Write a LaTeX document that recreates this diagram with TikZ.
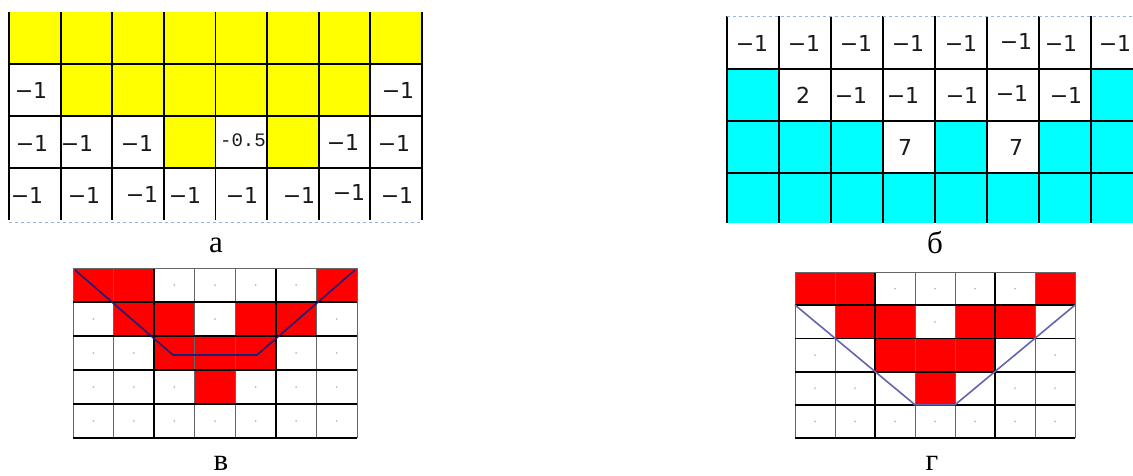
\documentclass[tikz,border=0pt]{standalone}
\usepackage{fontspec}
\setmainfont{Liberation Serif}
\newfontfamily\cellfont{DejaVu Sans}
\newfontfamily\typefont{Liberation Mono}
\definecolor{hilite}{RGB}{255,255,0}
\definecolor{aqua}{RGB}{0,255,255}
\definecolor{redcell}{RGB}{255,0,0}
\definecolor{ink}{RGB}{25,25,25}
\definecolor{seam}{RGB}{150,180,225}
\definecolor{pathdark}{RGB}{30,30,120}
\definecolor{pathsoft}{RGB}{100,100,175}
\usetikzlibrary{positioning}
\tikzset{
  gridline/.style={black,line width=1.8pt},
  thinline/.style={gray!80!black,line width=0.9pt},
  seamline/.style={seam,dashed,line width=1pt},
  num/.style={font=\cellfont\fontsize{22}{22}\selectfont,text=ink,inner sep=0pt},
  tag/.style={font=\fontsize{31}{31}\selectfont,inner sep=0pt}
}

\begin{document}
\begin{tikzpicture}[x=1pt,y=-1pt]
  \useasboundingbox (0,0) rectangle (1133,475);
  \clip (0,0) rectangle (1133,475);
  % panel a
  \fill[hilite] (9,12) rectangle (421.8,64);
  \fill[hilite] (60.6,64) rectangle (370.2,116);
  \fill[hilite] (163.8,116) rectangle (215.4,168);
  \fill[hilite] (267,116) rectangle (318.6,168);
  \foreach \i in {0,...,8}
    \draw[gridline] ({9+51.6*\i},12) -- ({9+51.6*\i},220);
  \foreach \y in {64,116,168}
    \draw[gridline] (9,\y) -- (421.8,\y);
  \draw[seamline] (9,222) -- (421.8,222);
  \foreach \x/\y [count=\i] in {31/90,398/90,32/143,77/143,137/143,343/142,394/143,
      27/195,84/195,142/194,185/195,242/195,299/195,349/192,397/195}
    \node[num] (a\i) at (\x,\y) {−1};
  \node[font=\typefont\fontsize{19}{19}\selectfont,text=ink,inner sep=0pt] (a-half) at (243,140) {-0.5};
  \node[tag] (lab-a) at (216,245) {а};
  % panel b
  \fill[aqua] (727,69) rectangle (779,121);
  \fill[aqua] (1091,69) rectangle (1143,121);
  \fill[aqua] (727,121) rectangle (883,173);
  \fill[aqua] (935,121) rectangle (987,173);
  \fill[aqua] (1039,121) rectangle (1143,173);
  \fill[aqua] (727,173) rectangle (1143,223);
  \foreach \i in {0,...,8}
    \draw[gridline] ({727+52*\i},16) -- ({727+52*\i},223);
  \foreach \y in {69,121,173}
    \draw[gridline] (727,\y) -- (1143,\y);
  \draw[seamline] (727,16) -- (1143,16);
  \foreach \x/\y [count=\i] in {752/43,804/43,856/43,908/43,961/43,1016/41,1061/43,1115/43,
      851/95,903/95,962/95,1012/93,1066/95}
    \node[num] (b\i) at (\x,\y) {−1};
  \node[num] (b-two) at (803,95) {2};
  \node[num] (b-seven1) at (905,147) {7};
  \node[num] (b-seven2) at (1016,147) {7};
  \node[tag] (lab-b) at (935,243) {б};
  % panels v and g
  \foreach \ox/\oy/\w/\h in {73/268/40.57/34,795/272/40/33.2}{
    \foreach \c in {1,...,7}
      \foreach \r in {1,...,5}
        \fill[gray!55] ({\ox+(\c-0.5)*\w},{\oy+(\r-0.5)*\h}) circle (1);
    \foreach \c/\r in {1/1,2/1,7/1,2/2,3/2,5/2,6/2,3/3,4/3,5/3,4/4}
      \fill[redcell] ({\ox+(\c-1)*\w},{\oy+(\r-1)*\h}) rectangle ++(\w,\h);
    \foreach \i in {0,1,3,4,6,7}
      \draw[thinline] ({\ox+\i*\w},\oy) -- ({\ox+\i*\w},{\oy+5*\h});
    \foreach \i in {2,5}
      \draw[gridline] ({\ox+\i*\w},\oy) -- ({\ox+\i*\w},{\oy+5*\h});
    \draw[thinline] (\ox,\oy) -- ({\ox+7*\w},\oy);
    \foreach \j in {1,...,4}
      \draw[gridline] (\ox,{\oy+\j*\h}) -- ({\ox+7*\w},{\oy+\j*\h});
    \draw[black,line width=1.4pt] (\ox,{\oy+5*\h}) -- ({\ox+7*\w},{\oy+5*\h});
  }
  \draw[pathdark,line width=1.6pt] (75,270) -- (173,355) -- (257,355) -- (355,270);
  \draw[pathsoft,line width=1.6pt] (795,305) -- (915,404.8) -- (955,404.8) -- (1075,305);
  \node[tag] (lab-v) at (221,463) {в};
  \node[tag] (lab-g) at (932,463) {г};
\end{tikzpicture}
\end{document}
